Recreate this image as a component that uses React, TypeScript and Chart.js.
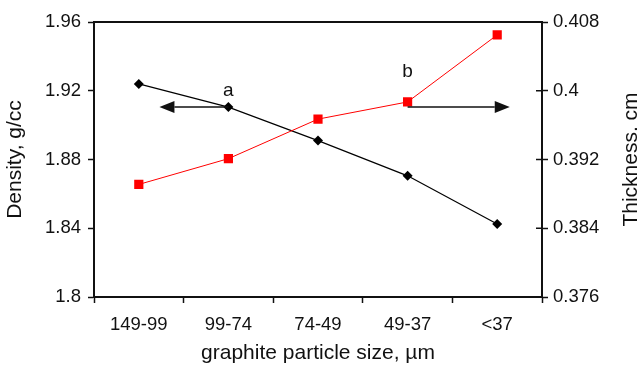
import React, { useEffect, useRef } from 'react';
import { Chart, registerables } from 'chart.js';

Chart.register(...registerables);

// Particle size classes and measured properties
const categories = ['149-99', '99-74', '74-49', '49-37', '<37'];
const density = [1.924, 1.9105, 1.891, 1.8705, 1.8425];
const thickness = [0.3891, 0.3921, 0.3967, 0.3987, 0.4065];

// Axis tick values
const densityTicks = [1.8, 1.84, 1.88, 1.92, 1.96];
const thicknessTicks = [0.376, 0.384, 0.392, 0.4, 0.408];

// Curve labels and the arrows pointing to each curve's axis
const noteLabels = ['a', 'b'];
const noteX = [1, 3];
const noteY = [1.92, 1.931];
const arrowStart = [1, 3];
const arrowEnd = [0.23, 4.14];
const arrowLevel = [1.9105, 1.9105];

const FONT = 'Liberation Sans, Arial, Helvetica, sans-serif';
const INK = '#111';
const TICK_SIZE = 18.5;
const TITLE_SIZE = 21;

const decorPlugin = {
  id: 'decor',
  afterDraw(chart: any) {
    const { ctx, chartArea, scales } = chart;
    const x = scales.x;
    const y = scales.y;
    const y1 = scales.y1;
    ctx.save();

    // top frame line
    ctx.strokeStyle = INK;
    ctx.lineWidth = 2;
    ctx.beginPath();
    ctx.moveTo(chartArea.left - 1, chartArea.top);
    ctx.lineTo(chartArea.right + 1, chartArea.top);
    ctx.stroke();

    // inner half of the right axis tick marks
    ctx.lineWidth = 1.5;
    y1.ticks.forEach((t: any) => {
      const py = y1.getPixelForValue(t.value);
      ctx.beginPath();
      ctx.moveTo(chartArea.right - 6, py);
      ctx.lineTo(chartArea.right, py);
      ctx.stroke();
    });

    // arrows
    ctx.fillStyle = INK;
    ctx.lineWidth = 1.5;
    for (let i = 0; i < arrowStart.length; i++) {
      const xs = x.getPixelForValue(arrowStart[i]);
      const xe = x.getPixelForValue(arrowEnd[i]);
      const py = y.getPixelForValue(arrowLevel[i]);
      const dir = xe > xs ? 1 : -1;
      const headLen = 15;
      const headHalf = 6;
      ctx.beginPath();
      ctx.moveTo(xs, py);
      ctx.lineTo(xe - dir * headLen, py);
      ctx.stroke();
      ctx.beginPath();
      ctx.moveTo(xe, py);
      ctx.lineTo(xe - dir * headLen, py - headHalf);
      ctx.lineTo(xe - dir * headLen, py + headHalf);
      ctx.closePath();
      ctx.fill();
    }

    // curve labels
    ctx.font = `19px ${FONT}`;
    ctx.textAlign = 'center';
    ctx.textBaseline = 'middle';
    for (let i = 0; i < noteLabels.length; i++) {
      ctx.fillText(noteLabels[i], x.getPixelForValue(noteX[i]), y.getPixelForValue(noteY[i]));
    }

    // right axis title, reading bottom to top
    ctx.font = `${TITLE_SIZE}px ${FONT}`;
    ctx.textBaseline = 'alphabetic';
    ctx.translate(637, (chartArea.top + chartArea.bottom) / 2);
    ctx.rotate(-Math.PI / 2);
    ctx.fillText('Thickness. cm', 0, 0);
    ctx.restore();
  },
};

export default function App() {
  const canvasRef = useRef<HTMLCanvasElement | null>(null);

  useEffect(() => {
    document.body.style.margin = '0';
    const canvas = canvasRef.current;
    if (!canvas) return;

    const chart = new Chart(canvas, {
      type: 'line',
      data: {
        labels: categories,
        datasets: [
          {
            label: 'Thickness',
            data: thickness,
            yAxisID: 'y1',
            borderColor: '#ff0000',
            backgroundColor: '#ff0000',
            borderWidth: 1,
            pointStyle: 'rect',
            pointRadius: 6.5,
            pointHoverRadius: 6.5,
            pointBorderWidth: 0,
          },
          {
            label: 'Density',
            data: density,
            yAxisID: 'y',
            borderColor: '#000',
            backgroundColor: '#000',
            borderWidth: 1.2,
            pointStyle: 'rectRot',
            pointRadius: 5,
            pointHoverRadius: 5,
            pointBorderWidth: 0,
          },
        ],
      },
      options: {
        responsive: false,
        animation: false,
        events: [],
        layout: { padding: { top: 22, left: 0, right: 0, bottom: 0 } },
        plugins: {
          legend: { display: false },
          tooltip: { enabled: false },
        },
        scales: {
          x: {
            type: 'category',
            offset: true,
            afterFit: (s: any) => {
              s.height = 70;
            },
            grid: {
              offset: true,
              drawOnChartArea: false,
              drawTicks: true,
              tickLength: 6,
              tickWidth: 1.5,
              tickColor: INK,
            },
            border: { display: true, color: INK, width: 2 },
            ticks: {
              color: INK,
              font: { family: FONT, size: TICK_SIZE },
              padding: 11,
              maxRotation: 0,
              autoSkip: false,
            },
            title: {
              display: true,
              text: 'graphite particle size, µm',
              color: INK,
              font: { family: FONT, size: TITLE_SIZE },
              padding: { top: 0, bottom: 1 },
            },
          },
          y: {
            type: 'linear',
            position: 'left',
            min: densityTicks[0],
            max: densityTicks[densityTicks.length - 1],
            afterBuildTicks: (s: any) => {
              s.ticks = densityTicks.map((v) => ({ value: v }));
            },
            afterFit: (s: any) => {
              s.width = 94;
            },
            grid: {
              drawOnChartArea: false,
              drawTicks: true,
              tickLength: 6,
              tickWidth: 1.5,
              tickColor: INK,
            },
            border: { display: true, color: INK, width: 2 },
            ticks: {
              color: INK,
              font: { family: FONT, size: TICK_SIZE },
              padding: 7,
              callback: (v: any) => String(+Number(v).toFixed(2)),
            },
            title: {
              display: true,
              text: 'Density, g/cc',
              color: INK,
              font: { family: FONT, size: TITLE_SIZE },
              padding: { top: 3, bottom: 0 },
            },
          },
          y1: {
            type: 'linear',
            position: 'right',
            min: thicknessTicks[0],
            max: thicknessTicks[thicknessTicks.length - 1],
            afterBuildTicks: (s: any) => {
              s.ticks = thicknessTicks.map((v) => ({ value: v }));
            },
            afterFit: (s: any) => {
              s.width = 97;
            },
            grid: {
              drawOnChartArea: false,
              drawTicks: true,
              tickLength: 6,
              tickWidth: 1.5,
              tickColor: INK,
            },
            border: { display: true, color: INK, width: 2 },
            ticks: {
              color: INK,
              font: { family: FONT, size: TICK_SIZE },
              padding: 5,
              callback: (v: any) => String(+Number(v).toFixed(3)),
            },
          },
        },
      },
      plugins: [decorPlugin],
    });

    return () => chart.destroy();
  }, []);

  return (
    <div style={{ width: 639, height: 367, background: '#fff' }}>
      <canvas ref={canvasRef} width={639} height={367} style={{ display: 'block' }} />
    </div>
  );
}
